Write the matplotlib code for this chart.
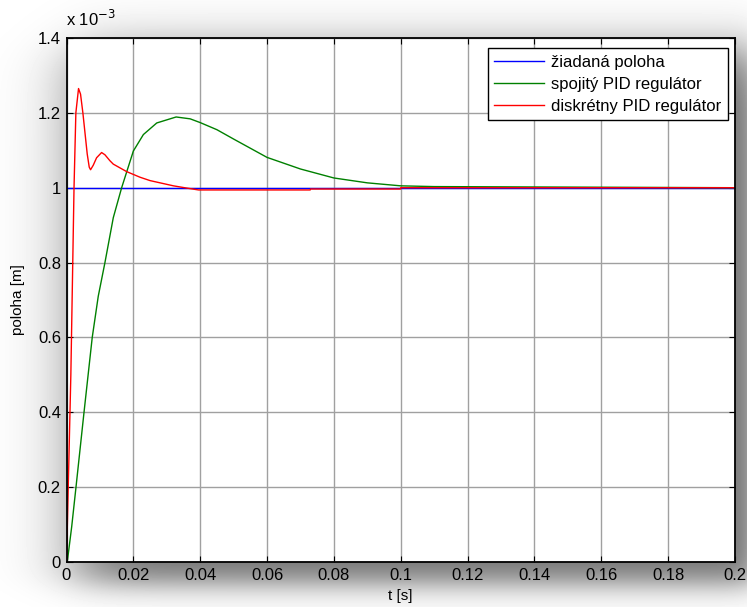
import numpy as np
import matplotlib
matplotlib.use('Agg')
import matplotlib.pyplot as plt

plt.rcParams['font.family'] = ['Liberation Sans', 'DejaVu Sans']

# hodnoty v jednotkach 1e-3 m
t_ziad = [0.0, 0.2]
y_ziad = [1.0, 1.0]

t_spoj = [0, 0.0003, 0.00155, 0.00284, 0.00524, 0.0077, 0.0095, 0.0115, 0.014, 0.0165,
          0.02, 0.023, 0.027, 0.0328, 0.037, 0.04, 0.045, 0.05, 0.06, 0.07,
          0.08, 0.09, 0.1, 0.11, 0.2]
y_spoj = [0, 0.005, 0.094, 0.2, 0.4, 0.6, 0.71, 0.8, 0.92, 1.0,
          1.098, 1.142, 1.173, 1.189, 1.184, 1.174, 1.155, 1.13, 1.081, 1.05,
          1.026, 1.013, 1.005, 1.003, 1.0]

t_disk = [0, 0.0013, 0.00225, 0.0028, 0.0036, 0.0042, 0.0049, 0.0062, 0.0068, 0.0072,
          0.0080, 0.0090, 0.0105, 0.0115, 0.013, 0.014, 0.018, 0.022, 0.025, 0.032,
          0.036, 0.0395, 0.0729, 0.073, 0.0999, 0.1, 0.2]
y_disk = [0, 0.5, 1.0, 1.2, 1.265, 1.25, 1.2, 1.09, 1.055, 1.048,
          1.06, 1.08, 1.094, 1.088, 1.072, 1.063, 1.043, 1.028, 1.019, 1.005,
          0.999, 0.994, 0.994, 0.9965, 0.9965, 1.0, 1.0]

x_ticks = [0, 0.02, 0.04, 0.06, 0.08, 0.1, 0.12, 0.14, 0.16, 0.18, 0.2]
x_labels = ['0', '0.02', '0.04', '0.06', '0.08', '0.1', '0.12', '0.14', '0.16', '0.18', '0.2']
y_ticks = [0, 0.2, 0.4, 0.6, 0.8, 1.0, 1.2, 1.4]
y_labels = ['0', '0.2', '0.4', '0.6', '0.8', '1', '1.2', '1.4']

W, H = 747, 607
fig = plt.figure(figsize=(W / 100, H / 100), dpi=100)

# tien okolo grafu
def sig(v):
    return 1.0 / (1.0 + np.exp(-v))

xx = np.arange(W)[None, :]
yy = np.arange(H)[:, None]
dark = 0.55 * sig((xx - 75) / 20) * sig((755 - xx) / 8) * sig((yy - 50) / 15) * sig((583 - yy) / 9)
bg = fig.add_axes([0, 0, 1, 1], zorder=-10)
bg.imshow(1 - dark, cmap='gray', vmin=0, vmax=1, aspect='auto', interpolation='bilinear')
bg.axis('off')

ax = fig.add_axes([66.5 / W, (H - 562) / H, 668.5 / W, 524 / H])
ax.set_facecolor('white')

ax.plot(t_ziad, y_ziad, color='#0000ff', lw=1.0, label='žiadaná poloha')
ax.plot(t_spoj, y_spoj, color='#008000', lw=1.0, label='spojitý PID regulátor')
ax.plot(t_disk, y_disk, color='#ff0000', lw=1.0, label='diskrétny PID regulátor')

ax.set_xlim(0, 0.2)
ax.set_ylim(0, 1.4)
ax.set_xticks(x_ticks)
ax.set_xticklabels(x_labels)
ax.set_yticks(y_ticks)
ax.set_yticklabels(y_labels)
ax.tick_params(direction='in', top=True, right=True, length=4, width=0.8, labelsize=12, pad=4)
ax.grid(True, color='#a0a0a0', lw=1.0)
ax.set_axisbelow(True)
for s in ax.spines.values():
    s.set_linewidth(1.3)

ax.set_xlabel('t [s]', fontsize=11)
ax.set_ylabel('poloha [m]', fontsize=11)
ax.xaxis.set_label_coords(0.5, -0.051)
ax.yaxis.set_label_coords(-0.062, 0.5)
ax.text(0, 1.018, r'x 10$^{-3}$', transform=ax.transAxes, fontsize=12, ha='left', va='bottom')

leg = ax.legend(loc='upper right', bbox_to_anchor=(728 / W, 1 - 48 / H),
                bbox_transform=fig.transFigure, borderaxespad=0,
                fontsize=12, fancybox=False, framealpha=1, edgecolor='black',
                handlelength=3.0, handletextpad=0.4, labelspacing=0.42, borderpad=0.4)
leg.get_frame().set_linewidth(1.0)

fig.savefig('out.png', dpi=100)
